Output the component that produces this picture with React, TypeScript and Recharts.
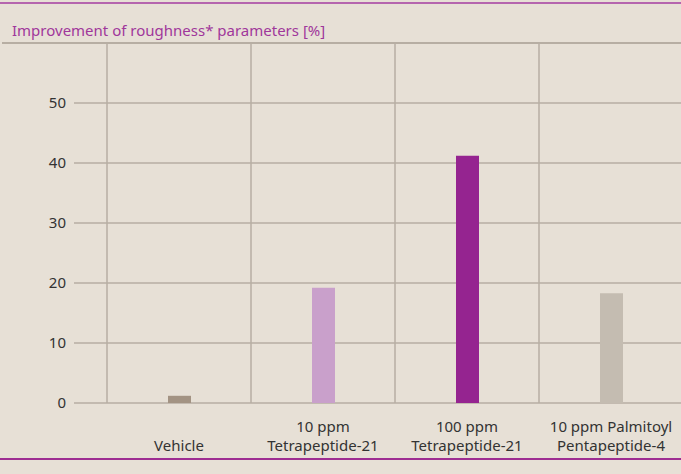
import React from 'react';
import { BarChart, Bar, XAxis, YAxis, CartesianGrid, Cell } from 'recharts';

const categories = ['Vehicle', '10 ppm\nTetrapeptide-21', '100 ppm\nTetrapeptide-21', '10 ppm Palmitoyl\nPentapeptide-4'];
const improvement = [1.2, 19.2, 41.2, 18.3];
const barColors = ['#a39383', '#c9a0cb', '#952490', '#c4bcb1'];
const yTicks = [0, 10, 20, 30, 40, 50];

const data = categories.map((name, i) => ({ name, value: improvement[i] }));

const font = '"Noto Sans", sans-serif';
const gridColor = '#b7aea3';
const padLeft = 33;

function CategoryTick(props: any) {
  const { x, y, payload } = props;
  const lines = String(payload.value).split('\n');
  const last = 48;
  return (
    <text x={x} textAnchor="middle" fontFamily={font} fontSize={15} fill="#333">
      {lines.map((line, i) => (
        <tspan key={i} x={x} y={y + last - (lines.length - 1 - i) * 19.5}>{line}</tspan>
      ))}
    </text>
  );
}

// vertical grid lines at the left edge of each category band
const bandStarts = ({ offset }: any) => {
  const start = offset.left + padLeft;
  const band = (offset.width - padLeft) / categories.length;
  return categories.map((_, i) => start + i * band);
};

export default function App() {
  return (
    <div style={{ position: 'absolute', left: 0, top: 0, width: 681, height: 474, background: '#e7e0d6', overflow: 'hidden', fontFamily: font }}>
      <div style={{ position: 'absolute', left: 0, top: 2, width: 681, height: 2, background: '#b565ae' }} />
      <div style={{ position: 'absolute', left: 12, top: 20, fontSize: 15, lineHeight: '20px', color: '#a0379b', whiteSpace: 'nowrap' }}>
        Improvement of roughness* parameters [%]
      </div>
      <div style={{ position: 'absolute', left: 2, top: 42, width: 679, height: 1.5, background: gridColor }} />
      <div style={{ position: 'absolute', left: 0, top: 458, width: 681, height: 2, background: '#9e2d92' }} />
      <div style={{ position: 'absolute', left: 0, top: 0 }}>
        <BarChart width={690} height={474} data={data} margin={{ top: 43, right: 7, bottom: 21, left: 0 }}>
          <CartesianGrid stroke={gridColor} strokeWidth={1.5} verticalCoordinatesGenerator={bandStarts} />
          <XAxis
            dataKey="name"
            interval={0}
            axisLine={false}
            tickLine={false}
            tickSize={0}
            tickMargin={0}
            height={50}
            padding={{ left: padLeft, right: 0 }}
            tick={<CategoryTick />}
          />
          <YAxis
            domain={[0, 60]}
            ticks={yTicks}
            width={74}
            axisLine={false}
            tickLine={false}
            tick={{ fontFamily: font, fontSize: 15, fill: '#333' }}
          />
          <Bar dataKey="value" barSize={23} isAnimationActive={false}>
            {data.map((d, i) => (
              <Cell key={d.name} fill={barColors[i]} />
            ))}
          </Bar>
        </BarChart>
      </div>
    </div>
  );
}
